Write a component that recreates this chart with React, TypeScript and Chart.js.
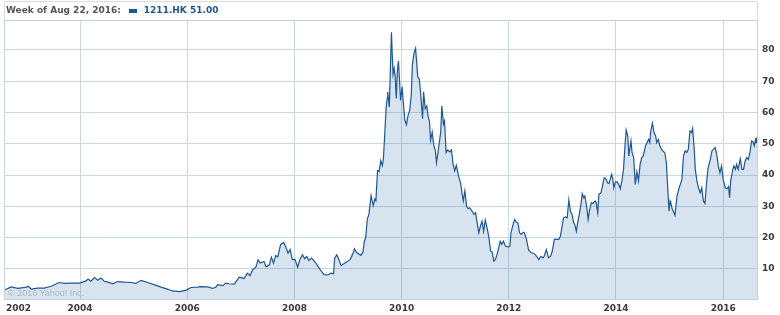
import React, { useEffect, useRef } from "react";
import { Chart, registerables } from "chart.js";

Chart.register(...registerables);

// Weekly closes of 1211.HK (decimal year of week, close in HKD)
const weeks = [
  2002.58, 2002.71, 2002.84, 2003.0, 2003.03, 2003.09, 2003.21, 2003.33, 2003.46, 2003.61, 2003.71, 2003.83, 2003.99,
  2004.11, 2004.15, 2004.2, 2004.27, 2004.33, 2004.39, 2004.45, 2004.52, 2004.61, 2004.7, 2004.83, 2004.95,
  2005.04, 2005.14, 2005.26, 2005.38, 2005.51, 2005.63, 2005.72, 2005.85, 2005.97, 2006.07, 2006.19,
  2006.25, 2006.38, 2006.47, 2006.53, 2006.57, 2006.66, 2006.72, 2006.78, 2006.88, 2006.91, 2006.97,
  2007.06, 2007.12, 2007.17, 2007.22, 2007.28, 2007.32, 2007.36, 2007.43, 2007.47, 2007.53, 2007.57, 2007.61,
  2007.65, 2007.69, 2007.74, 2007.8, 2007.84, 2007.88, 2007.92, 2007.96,
  2008.01, 2008.06, 2008.1, 2008.15, 2008.19, 2008.23, 2008.27, 2008.32, 2008.4, 2008.48, 2008.55, 2008.62,
  2008.68, 2008.73, 2008.75, 2008.79, 2008.83, 2008.87, 2008.92, 2008.98,
  2009.04, 2009.1, 2009.12, 2009.16, 2009.24, 2009.28, 2009.3, 2009.33, 2009.36, 2009.39, 2009.43, 2009.47,
  2009.5, 2009.52, 2009.55, 2009.58, 2009.61, 2009.64, 2009.66, 2009.68, 2009.71, 2009.73, 2009.74, 2009.77,
  2009.79, 2009.81, 2009.83, 2009.84, 2009.86, 2009.88, 2009.9, 2009.92, 2009.94, 2009.96, 2009.98,
  2010.01, 2010.03, 2010.06, 2010.09, 2010.12, 2010.15, 2010.18, 2010.2, 2010.23, 2010.26, 2010.28, 2010.3,
  2010.33, 2010.35, 2010.39, 2010.41, 2010.44, 2010.47, 2010.49, 2010.52, 2010.54, 2010.57, 2010.6, 2010.63,
  2010.65, 2010.68, 2010.7, 2010.73, 2010.75, 2010.78, 2010.8, 2010.83, 2010.86, 2010.9, 2010.93, 2010.96, 2010.99,
  2011.02, 2011.07, 2011.1, 2011.13, 2011.15, 2011.18, 2011.21, 2011.24, 2011.27, 2011.3, 2011.35, 2011.38,
  2011.41, 2011.44, 2011.47, 2011.5, 2011.53, 2011.56, 2011.6, 2011.63, 2011.66, 2011.69, 2011.72, 2011.75,
  2011.78, 2011.81, 2011.84, 2011.87, 2011.9, 2011.94, 2011.98,
  2012.02, 2012.04, 2012.08, 2012.11, 2012.14, 2012.17, 2012.2, 2012.23, 2012.27, 2012.29, 2012.33, 2012.37,
  2012.42, 2012.47, 2012.52, 2012.56, 2012.6, 2012.64, 2012.66, 2012.7, 2012.74, 2012.78, 2012.81, 2012.85,
  2012.89, 2012.93, 2012.96, 2012.99,
  2013.02, 2013.06, 2013.09, 2013.12, 2013.15, 2013.18, 2013.21, 2013.23, 2013.26, 2013.28, 2013.32, 2013.35,
  2013.37, 2013.4, 2013.42, 2013.46, 2013.48, 2013.51, 2013.54, 2013.57, 2013.61, 2013.63, 2013.66, 2013.68,
  2013.72, 2013.75, 2013.78, 2013.82, 2013.84, 2013.87, 2013.89, 2013.92, 2013.94, 2013.96, 2013.99,
  2014.02, 2014.05, 2014.08, 2014.11, 2014.14, 2014.17, 2014.19, 2014.22, 2014.24, 2014.28, 2014.3, 2014.33,
  2014.36, 2014.39, 2014.42, 2014.45, 2014.48, 2014.51, 2014.55, 2014.58, 2014.61, 2014.63, 2014.65, 2014.68,
  2014.71, 2014.74, 2014.76, 2014.79, 2014.82, 2014.85, 2014.87, 2014.91, 2014.94, 2014.96, 2014.99,
  2015.01, 2015.02, 2015.05, 2015.07, 2015.1, 2015.14, 2015.17, 2015.2, 2015.23, 2015.26, 2015.29, 2015.32,
  2015.35, 2015.38, 2015.41, 2015.43, 2015.46, 2015.48, 2015.51, 2015.54, 2015.57, 2015.6, 2015.63, 2015.66,
  2015.69, 2015.72, 2015.76, 2015.79, 2015.82, 2015.85, 2015.88, 2015.91, 2015.94, 2015.97,
  2016.0, 2016.04, 2016.07, 2016.1, 2016.12, 2016.14, 2016.18, 2016.2, 2016.23, 2016.25, 2016.28, 2016.32,
  2016.35, 2016.38, 2016.41, 2016.44, 2016.47, 2016.5, 2016.53, 2016.56, 2016.58, 2016.6, 2016.62, 2016.64,
];

const closes = [
  3.1, 4.2, 3.7, 4.1, 4.4, 3.5, 3.8, 3.8, 4.4, 5.6, 5.3, 5.4, 5.4,
  6.1, 6.7, 6.0, 7.2, 6.3, 7.0, 6.0, 5.7, 5.2, 5.9, 5.7, 5.6,
  5.3, 6.3, 5.6, 4.9, 4.1, 3.5, 2.9, 2.7, 3.1, 4.0, 4.1,
  4.3, 4.2, 3.7, 4.1, 4.9, 4.6, 5.4, 5.2, 5.1, 5.9, 7.3,
  6.9, 8.6, 7.8, 9.7, 10.5, 12.9, 11.8, 12.3, 10.7, 11.2, 13.7, 11.8,
  14.2, 13.8, 17.7, 18.4, 16.9, 15.0, 16.1, 12.9,
  13.0, 10.5, 12.9, 14.5, 13.2, 13.9, 12.6, 13.4, 11.8, 9.7, 8.1, 8.0,
  8.6, 8.4, 13.4, 14.5, 12.9, 11.0, 11.6, 12.2,
  13.0, 15.2, 16.4, 15.2, 14.3, 15.4, 18.4, 20.0, 25.9, 27.5, 33.4, 30.2,
  32.3, 31.8, 41.4, 41.1, 44.6, 43.0, 45.2, 51.6, 61.2, 64.5, 66.6, 61.8,
  74.1, 85.7, 76.2, 72.2, 74.1, 71.4, 64.5, 73.0, 76.5, 70.4, 63.9,
  68.2, 63.4, 57.5, 56.1, 59.1, 60.7, 65.5, 75.2, 78.9, 80.5, 76.2, 71.4,
  70.7, 67.1, 58.0, 66.6, 61.2, 62.1, 59.1, 57.0, 51.1, 53.7, 49.5, 47.8,
  43.9, 47.3, 50.0, 53.7, 62.1, 56.3, 57.3, 47.2, 48.0, 47.4, 48.0, 43.4, 41.3,
  43.1, 39.1, 37.5, 33.8, 31.7, 34.9, 30.1, 29.2, 29.5, 28.8, 27.4, 27.9,
  24.7, 21.5, 23.6, 25.2, 22.0, 25.6, 22.6, 19.9, 15.6, 15.3, 12.4, 13.0,
  14.5, 16.7, 18.8, 17.8, 18.8, 17.2, 17.0,
  17.2, 21.5, 24.2, 25.8, 24.9, 24.7, 21.5, 21.0, 21.7, 21.5, 19.4, 15.9,
  15.1, 14.9, 14.0, 12.9, 14.0, 13.5, 14.0, 16.1, 13.5, 14.0, 15.6, 19.4,
  19.4, 19.4, 20.2, 23.1,
  26.3, 26.6, 26.3, 32.0, 28.4, 27.4, 24.7, 24.2, 22.0, 24.2, 27.9, 31.1,
  34.0, 32.7, 33.3, 29.0, 25.8, 29.0, 31.1, 30.9, 31.7, 31.1, 27.9, 33.8,
  34.3, 36.7, 39.1, 38.6, 37.5, 37.3, 38.6, 40.2, 38.6, 35.9, 37.8,
  37.8, 37.0, 35.6, 38.1, 41.8, 49.8, 54.4, 52.5, 46.1, 50.9, 47.2, 45.6,
  37.0, 41.0, 38.1, 43.4, 45.6, 46.1, 49.3, 50.4, 51.4, 50.4, 54.1, 56.6,
  53.6, 52.5, 50.4, 51.4, 49.3, 48.2, 47.7, 47.2, 44.0, 37.5, 28.4,
  31.7, 31.3, 29.0, 28.4, 27.1, 33.3, 35.4, 37.0, 38.6, 46.1, 47.7, 47.2,
  48.2, 54.1, 53.6, 54.9, 48.2, 41.8, 38.1, 35.9, 34.3, 35.9, 31.7, 30.9,
  37.5, 42.4, 45.0, 47.7, 48.2, 48.8, 46.6, 42.9, 40.7, 42.9,
  38.6, 35.9, 35.6, 36.3, 32.7, 38.1, 41.8, 42.9, 41.8, 43.4, 41.8, 45.2,
  41.8, 41.8, 44.5, 45.6, 45.0, 47.2, 50.9, 50.6, 49.3, 50.9, 51.7, 51.0,
];

const yTickValues = [10, 20, 30, 40, 50, 60, 70, 80];
const xTickYears = [2004, 2006, 2008, 2010, 2012, 2014, 2016];
const firstYearLabel = "2002";
const headerLabel = "Week of Aug 22, 2016:";
const seriesName = "1211.HK";
const lastCloseText = "51.00";
const watermarkText = "\u00A9 2016 Yahoo! Inc.";

const X_MIN = 2002.58;
const X_MAX = 2016.65;
const FIRST_LABEL_POS = 2002.85;
const Y_MAX = 89.6;

const LINE_COLOR = "#1f5694";
const FILL_COLOR = "rgba(44,112,172,0.19)";
const GRID_COLOR = "#cad8e2";
const FONT = "'DejaVu Sans', Verdana, sans-serif";

const framePlugin = {
  id: "frame",
  afterDraw(chart: any) {
    const { ctx, chartArea: a } = chart;
    ctx.save();
    ctx.lineWidth = 1;
    ctx.strokeStyle = "#dcdcdc";
    ctx.beginPath();
    ctx.moveTo(a.left + 0.5, 1.5);
    ctx.lineTo(a.right - 0.5, 1.5);
    ctx.lineTo(a.right - 0.5, a.top);
    ctx.moveTo(a.left + 0.5, 1.5);
    ctx.lineTo(a.left + 0.5, a.top);
    ctx.stroke();
    ctx.strokeStyle = "#c3d3df";
    ctx.strokeRect(a.left + 0.5, a.top + 0.5, a.right - a.left - 1, a.bottom - a.top - 1);
    ctx.restore();
  },
};

export default function App() {
  const canvasRef = useRef<HTMLCanvasElement | null>(null);

  useEffect(() => {
    const canvas = canvasRef.current;
    if (!canvas) return;
    const points = weeks.map((w, i) => ({ x: w, y: closes[i] }));
    const lastIndex = points.length - 1;
    const chart = new Chart(canvas, {
      type: "line",
      data: {
        datasets: [
          {
            data: points,
            borderColor: LINE_COLOR,
            backgroundColor: FILL_COLOR,
            borderWidth: 1.2,
            fill: "origin",
            tension: 0,
            pointStyle: "rect",
            pointRadius: (c: any) => (c.dataIndex === lastIndex ? 3.5 : 0),
            pointBackgroundColor: LINE_COLOR,
            pointBorderColor: LINE_COLOR,
            pointBorderWidth: 0,
          },
        ],
      },
      options: {
        responsive: false,
        animation: false,
        devicePixelRatio: 1,
        layout: { padding: { left: 3, top: 20, right: 0, bottom: 0 } },
        plugins: {
          legend: { display: false },
          tooltip: { enabled: false },
        },
        scales: {
          x: {
            type: "linear",
            min: X_MIN,
            max: X_MAX,
            afterBuildTicks: (scale: any) => {
              scale.ticks = [{ value: FIRST_LABEL_POS }, ...xTickYears.map((v) => ({ value: v }))];
            },
            afterFit: (scale: any) => {
              scale.height = 15;
            },
            grid: {
              color: (c: any) => (c.tick && c.tick.value < 2003 ? "rgba(0,0,0,0)" : GRID_COLOR),
              drawTicks: false,
              lineWidth: 1,
            },
            border: { display: false },
            ticks: {
              autoSkip: false,
              maxRotation: 0,
              padding: 3,
              color: "#3a3a3a",
              font: { family: FONT, size: 9, weight: "bold" },
              callback: (v: any) => (v < 2003 ? firstYearLabel : String(v)),
            },
          },
          y: {
            type: "linear",
            position: "right",
            min: 0,
            max: Y_MAX,
            afterBuildTicks: (scale: any) => {
              scale.ticks = yTickValues.map((v) => ({ value: v }));
            },
            afterFit: (scale: any) => {
              scale.width = 22;
            },
            grid: { color: GRID_COLOR, drawTicks: false, lineWidth: 1 },
            border: { display: false },
            ticks: {
              padding: 4,
              color: "#3a3a3a",
              font: { family: FONT, size: 9, weight: "bold" },
              callback: (v: any) => String(v),
            },
          },
        },
      },
      plugins: [framePlugin],
    } as any);
    return () => chart.destroy();
  }, []);

  return (
    <div style={{ position: "absolute", left: 0, top: 0, width: 780, height: 315, background: "#fff" }}>
      <canvas ref={canvasRef} width={780} height={315} style={{ display: "block", width: 780, height: 315 }} />
      <div
        style={{
          position: "absolute",
          left: 6,
          top: 5,
          height: 11,
          lineHeight: "11px",
          fontFamily: FONT,
          fontSize: 9,
          fontWeight: "bold",
          whiteSpace: "nowrap",
          display: "flex",
          alignItems: "center",
        }}
      >
        <span style={{ color: "#555" }}>{headerLabel}</span>
        <span
          style={{
            display: "inline-block",
            width: 8,
            height: 4,
            background: LINE_COLOR,
            marginLeft: 8,
            marginRight: 7,
          }}
        />
        <span style={{ color: LINE_COLOR }}>
          {seriesName} {lastCloseText}
        </span>
      </div>
      <div
        style={{
          position: "absolute",
          left: 8,
          top: 288,
          lineHeight: "10px",
          fontFamily: "'Liberation Sans', Arial, sans-serif",
          fontSize: 9,
          color: "#aebbc5",
          whiteSpace: "nowrap",
        }}
      >
        {watermarkText}
      </div>
    </div>
  );
}
